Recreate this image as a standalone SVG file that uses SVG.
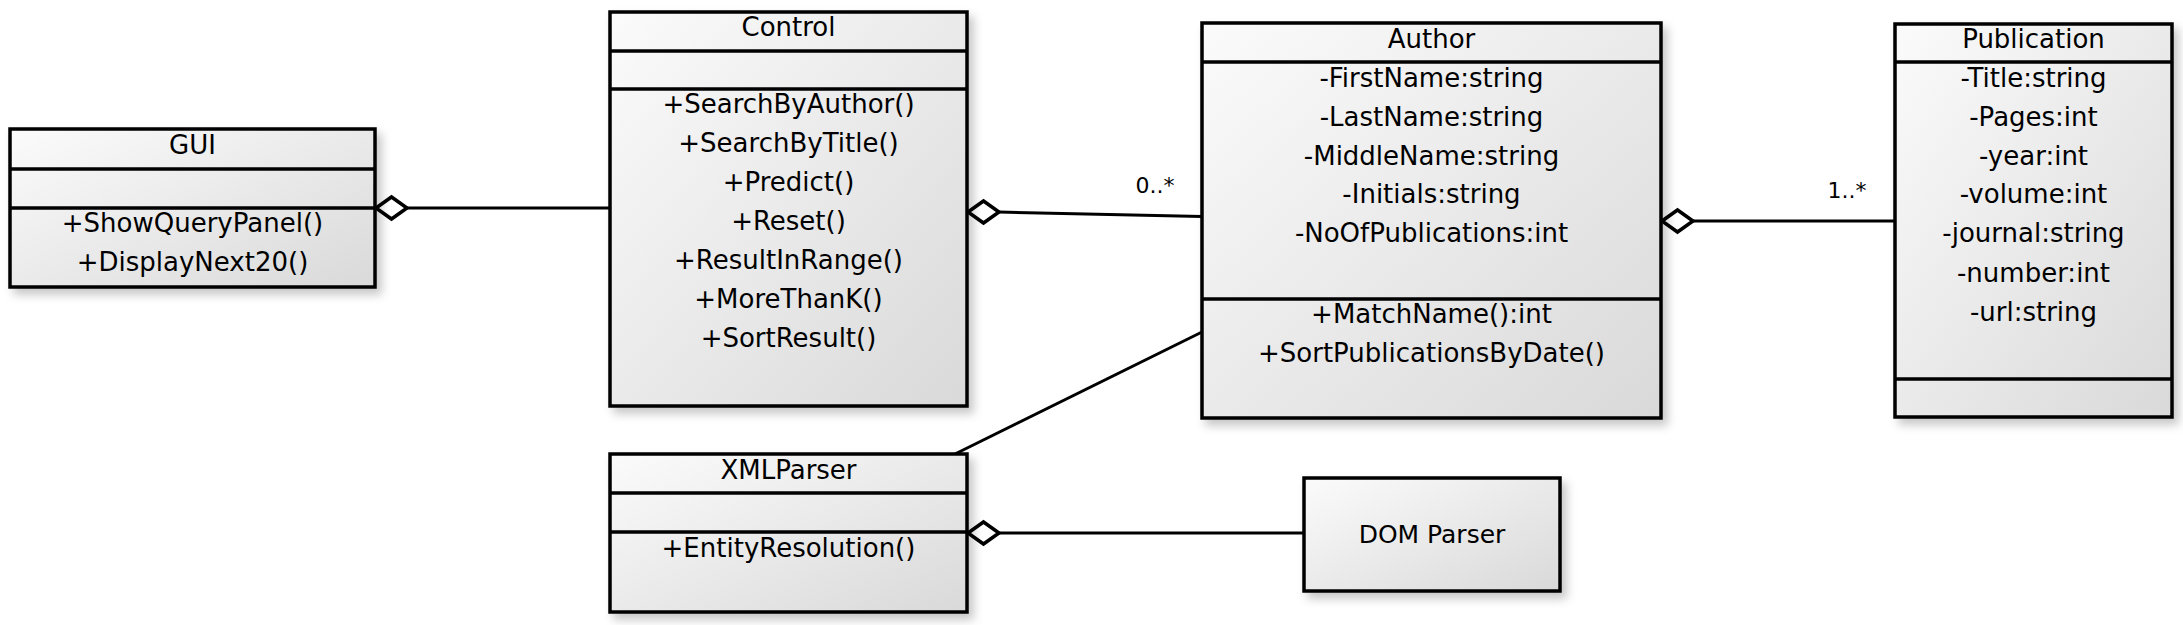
<svg xmlns="http://www.w3.org/2000/svg" width="2183" height="625" viewBox="0 0 2183 625">
<defs>
<linearGradient id="boxfill" x1="0" y1="0" x2="1" y2="1">
<stop offset="0" stop-color="#fbfbfb"/>
<stop offset="1" stop-color="#d9d9d9"/>
</linearGradient>
<filter id="shadow" x="-10%" y="-10%" width="130%" height="130%">
<feDropShadow dx="5" dy="6" stdDeviation="5" flood-color="#000" flood-opacity="0.22"/>
</filter>
<style>
.box{fill:url(#boxfill);stroke:#000;stroke-width:3.5;filter:url(#shadow)}
.div{stroke:#000;stroke-width:3.5}
.t{font-family:"DejaVu Sans",sans-serif;font-size:26px;fill:#000;text-anchor:middle}
.lbl{font-family:"DejaVu Sans",sans-serif;font-size:22px;fill:#000;text-anchor:middle}
.c{stroke:#000;stroke-width:3;fill:none}
.dia{fill:#fff;stroke:#000;stroke-width:3.5;stroke-linejoin:miter}
</style>
</defs>
<rect width="2183" height="625" fill="#fff"/>

<g id="connectors">
<line class="c" x1="407" y1="208" x2="610" y2="208"/>
<polygon class="dia" points="376,208 391.5,197 407,208 391.5,219"/>
<line class="c" x1="999" y1="212" x2="1202" y2="216.5"/>
<polygon class="dia" points="968,212 983.5,201 999,212 983.5,223"/>
<text class="lbl" x="1155" y="193">0..*</text>
<line class="c" x1="1693" y1="221" x2="1895" y2="221"/>
<polygon class="dia" points="1662,221 1677.5,210 1693,221 1677.5,232"/>
<text class="lbl" x="1847" y="198">1..*</text>
<line class="c" x1="1202" y1="332" x2="955" y2="454"/>
<line class="c" x1="999" y1="533" x2="1304" y2="533"/>
<polygon class="dia" points="968,533 983.5,522 999,533 983.5,544"/>
</g>

<g id="GUI">
<rect class="box" x="10" y="129" width="365" height="158"/>
<line class="div" x1="10" y1="169" x2="375" y2="169"/>
<line class="div" x1="10" y1="208" x2="375" y2="208"/>
<text class="t" x="192.5" y="154">GUI</text>
<text class="t" x="192.5" y="232">+ShowQueryPanel()</text>
<text class="t" x="192.5" y="271">+DisplayNext20()</text>
</g>

<g id="Control">
<rect class="box" x="610" y="12" width="357" height="394"/>
<line class="div" x1="610" y1="51" x2="967" y2="51"/>
<line class="div" x1="610" y1="89" x2="967" y2="89"/>
<text class="t" x="788.5" y="36">Control</text>
<text class="t" x="788.5" y="113">+SearchByAuthor()</text>
<text class="t" x="788.5" y="152">+SearchByTitle()</text>
<text class="t" x="788.5" y="191">+Predict()</text>
<text class="t" x="788.5" y="230">+Reset()</text>
<text class="t" x="788.5" y="269">+ResultInRange()</text>
<text class="t" x="788.5" y="308">+MoreThanK()</text>
<text class="t" x="788.5" y="347">+SortResult()</text>
</g>

<g id="Author">
<rect class="box" x="1202" y="23" width="459" height="395"/>
<line class="div" x1="1202" y1="62" x2="1661" y2="62"/>
<line class="div" x1="1202" y1="299" x2="1661" y2="299"/>
<text class="t" x="1431.5" y="48">Author</text>
<text class="t" x="1431.5" y="87">-FirstName:string</text>
<text class="t" x="1431.5" y="126">-LastName:string</text>
<text class="t" x="1431.5" y="165">-MiddleName:string</text>
<text class="t" x="1431.5" y="203">-Initials:string</text>
<text class="t" x="1431.5" y="242">-NoOfPublications:int</text>
<text class="t" x="1431.5" y="323">+MatchName():int</text>
<text class="t" x="1431.5" y="362">+SortPublicationsByDate()</text>
</g>

<g id="Publication">
<rect class="box" x="1895" y="24" width="277" height="393"/>
<line class="div" x1="1895" y1="62" x2="2172" y2="62"/>
<line class="div" x1="1895" y1="379" x2="2172" y2="379"/>
<text class="t" x="2033.5" y="48">Publication</text>
<text class="t" x="2033.5" y="87">-Title:string</text>
<text class="t" x="2033.5" y="126">-Pages:int</text>
<text class="t" x="2033.5" y="165">-year:int</text>
<text class="t" x="2033.5" y="203">-volume:int</text>
<text class="t" x="2033.5" y="242">-journal:string</text>
<text class="t" x="2033.5" y="282">-number:int</text>
<text class="t" x="2033.5" y="321">-url:string</text>
</g>

<g id="XMLParser">
<rect class="box" x="610" y="454" width="357" height="158"/>
<line class="div" x1="610" y1="493" x2="967" y2="493"/>
<line class="div" x1="610" y1="532" x2="967" y2="532"/>
<text class="t" x="788.5" y="479">XMLParser</text>
<text class="t" x="788.5" y="557">+EntityResolution()</text>
</g>

<g id="DOMParser">
<rect class="box" x="1304" y="478" width="256" height="113"/>
<text class="t" x="1432" y="543" style="font-size:25px">DOM Parser</text>
</g>
</svg>
